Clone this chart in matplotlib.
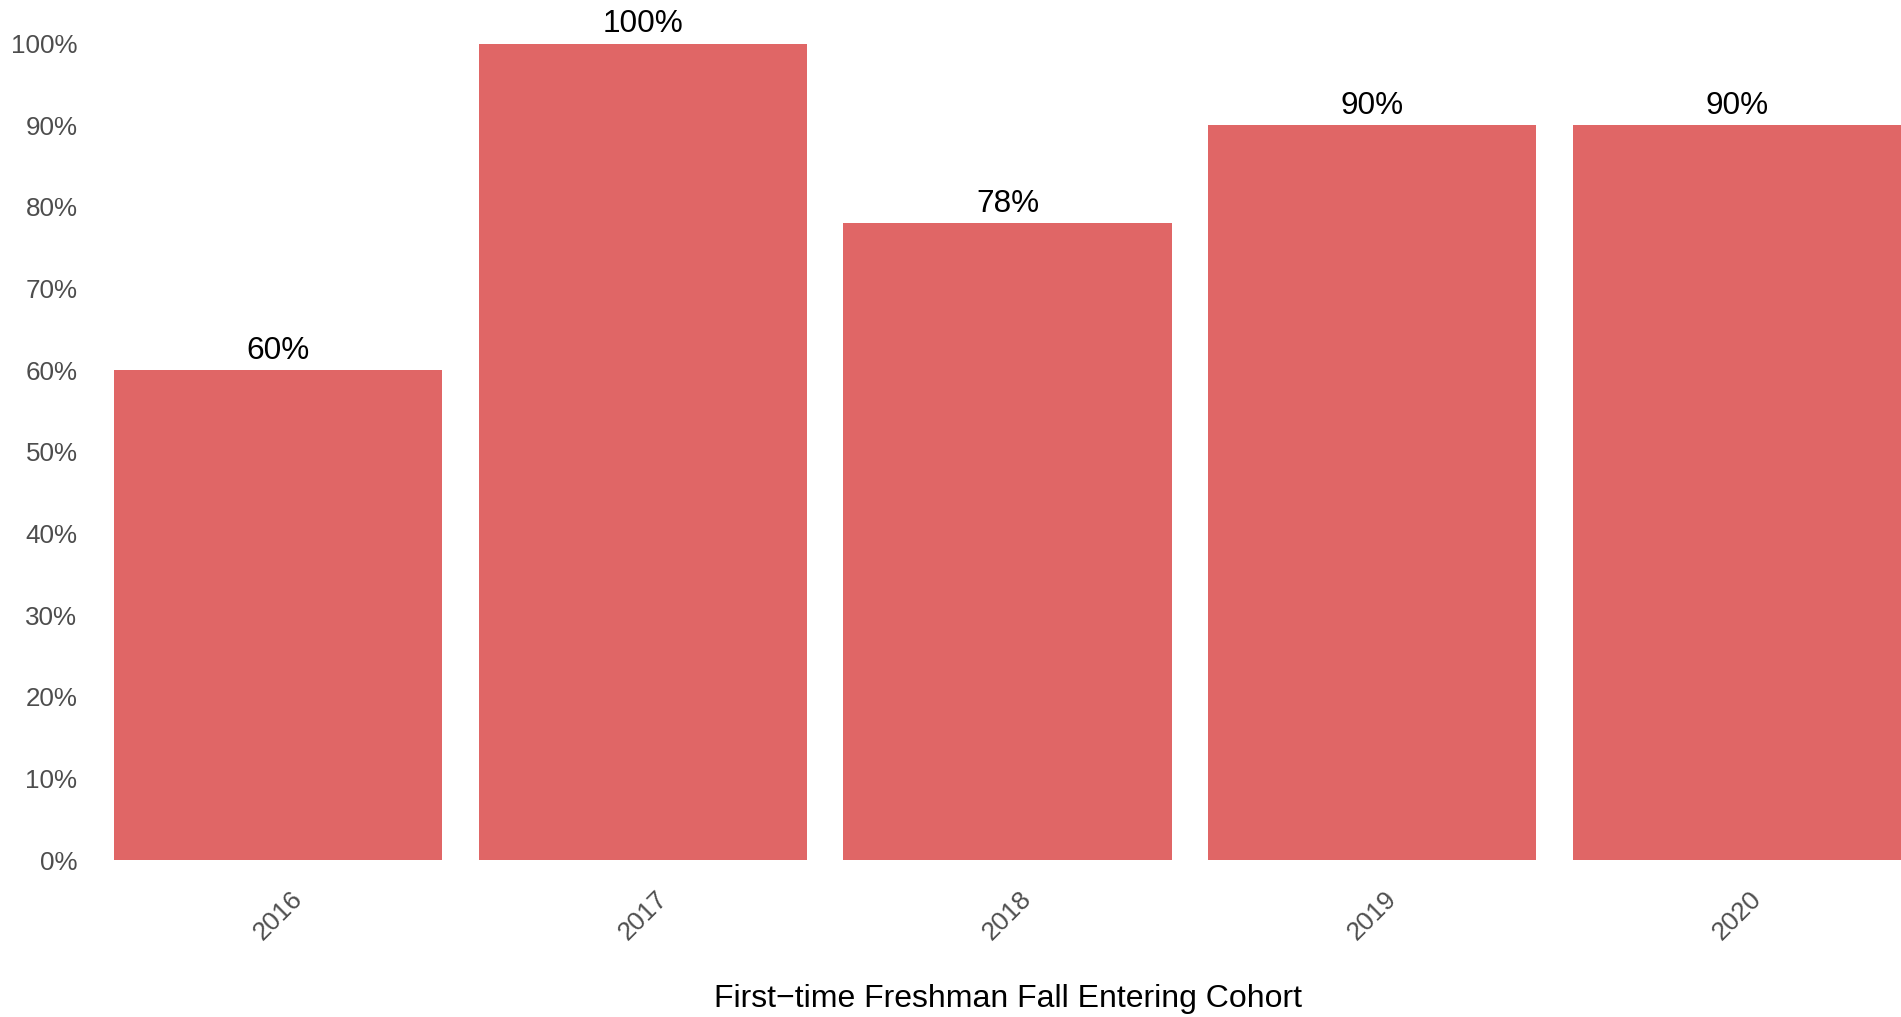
import matplotlib.pyplot as plt
from matplotlib.ticker import FuncFormatter

plt.rcParams['font.family'] = ['Liberation Sans', 'DejaVu Sans']

cohorts = ['2016', '2017', '2018', '2019', '2020']
rates = [60, 100, 78, 90, 90]
bar_labels = ['60%', '100%', '78%', '90%', '90%']
y_ticks = [0, 10, 20, 30, 40, 50, 60, 70, 80, 90, 100]

W, H = 1901, 1017
fig = plt.figure(figsize=(W / 100, H / 100), dpi=100)
# panel from first bar's left edge to the right edge of the picture
ax = fig.add_axes([114 / W, (H - 860) / H, (W - 114) / W, 860 / H])

x = list(range(len(cohorts)))
ax.bar(x, rates, width=0.9, color='#E06666', zorder=2)

for xi, v, lab in zip(x, rates, bar_labels):
    ax.annotate(lab, (xi, v), xytext=(0, 8), textcoords='offset points',
                ha='center', va='baseline', fontsize=22.7, color='black')

ax.set_xlim(-0.45, 4.45)
ax.set_ylim(0, 100 + 43.6 / 8.164)
ax.set_yticks(y_ticks)
ax.yaxis.set_major_formatter(FuncFormatter(lambda v, p: f'{v:.0f}%'))
ax.set_xticks(x)
ax.set_xticklabels(cohorts, rotation=45, ha='center', va='top')

ax.tick_params(axis='y', length=0, pad=26.3, labelsize=18.7, labelcolor='#4D4D4D')
ax.tick_params(axis='x', length=0, pad=19, labelsize=18.7, labelcolor='#4D4D4D')
for s in ax.spines.values():
    s.set_visible(False)

fig.text((114 + W) / 2 / W, 1 - 999 / H, 'First\u2212time Freshman Fall Entering Cohort',
         ha='center', va='center', fontsize=23, color='black')

fig.savefig('out.png', dpi=100)
